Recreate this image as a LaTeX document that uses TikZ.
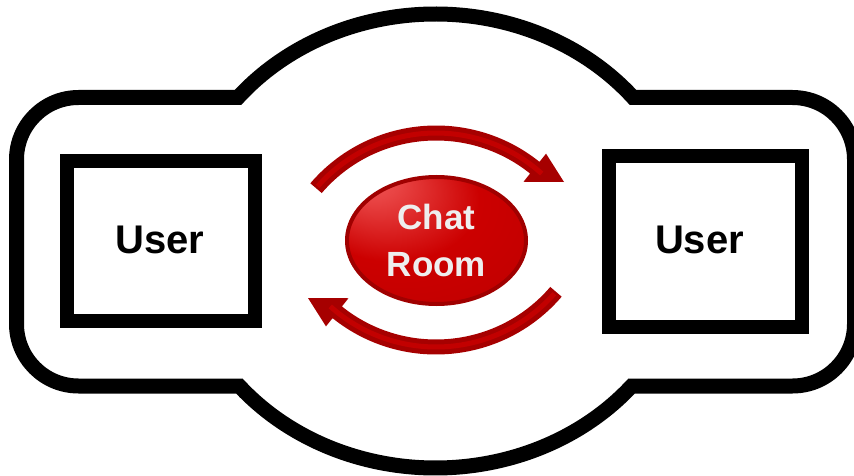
\documentclass[tikz,border=0pt]{standalone}
\usepackage{fontspec}
\setmainfont{Liberation Sans}
\usetikzlibrary{shapes.geometric}

\definecolor{roomdark}{HTML}{A00000}
\definecolor{roomred}{HTML}{CC0000}
\definecolor{roomlight}{HTML}{F25A5A}
\definecolor{arrowdark}{HTML}{A60000}
\definecolor{arrowmid}{HTML}{C20000}
\definecolor{roomtext}{HTML}{EEEEEE}

% soft highlight towards the upper left of the chat room
\pgfdeclareradialshading{roomshade}{\pgfpoint{-20bp}{26bp}}{%
  color(0bp)=(roomlight); color(7bp)=(roomlight!75!roomred);
  color(24bp)=(roomred); color(50bp)=(roomred!92!black); color(60bp)=(roomred!92!black)}

\tikzset{
  outline/.style={draw=black, line width=15pt},
  userbox/.style={draw=black, line width=14pt, rectangle, inner sep=0pt},
  userlabel/.style={font=\bfseries\fontsize{40}{48}\selectfont, anchor=base, inner sep=0pt},
  chatroom/.style={ellipse, draw=roomdark, line width=4pt, shading=roomshade,
    minimum width=179pt, minimum height=127pt, inner sep=0pt, align=center,
    text=roomtext, font=\bfseries\fontsize{35}{47}\selectfont},
  % curved arrow around the chat room, drawn relative to the room centre
  pics/swirl/.style={code={
    \fill[arrowdark]
      ([shift={(0,51)}]220.6:150.5) arc[start angle=220.6, end angle=308.7, radius=150.5]
      -- ([shift={(0,51)}]308.7:140) -- (128,-58) -- ([shift={(0,51)}]308.7:176)
      -- ([shift={(0,51)}]308.7:165.5) arc[start angle=308.7, end angle=220.6, radius=165.5]
      -- cycle;
    \draw[arrowmid, line width=5pt]
      ([shift={(0,51)}]221.5:158) arc[start angle=221.5, end angle=312, radius=158];
  }}
}

\begin{document}
\begin{tikzpicture}[x=1pt, y=-1pt]
\clip (0,0) rectangle (854,476);
\useasboundingbox (0,0) rectangle (854,476);

% outer frame: rounded rectangle merged with a large ellipse
\draw[outline]
  (237.9,97.5) -- (78.5,97.5) arc[start angle=270, end angle=180, radius=62]
  -- (16.5,324) arc[start angle=180, end angle=90, radius=62]
  -- (239.3,386) arc[start angle=140.30, end angle=39.70, x radius=255, y radius=227]
  -- (792.5,386) arc[start angle=90, end angle=0, radius=62]
  -- (854.5,159.5) arc[start angle=0, end angle=-90, radius=62]
  -- (633.1,97.5) arc[start angle=-39.21, end angle=-140.79, x radius=255, y radius=227]
  -- cycle;

% the two users
\node[userbox, minimum width=188pt, minimum height=160pt] (userL) at (161,241) {};
\node[userbox, minimum width=193pt, minimum height=171pt] (userR) at (705.5,241.5) {};
\node[userlabel] (userLtext) at (160,253) {User};
\node[userlabel] (userRtext) at (699.5,253) {User};

% exchange arrows around the room
\pic (sendArrow) at (436,240) {swirl};
\pic[rotate=180] (replyArrow) at (436,240) {swirl};

% chat room
\node[chatroom] (room) at (436.5,240.5) {Chat\\Room};
\end{tikzpicture}
\end{document}
